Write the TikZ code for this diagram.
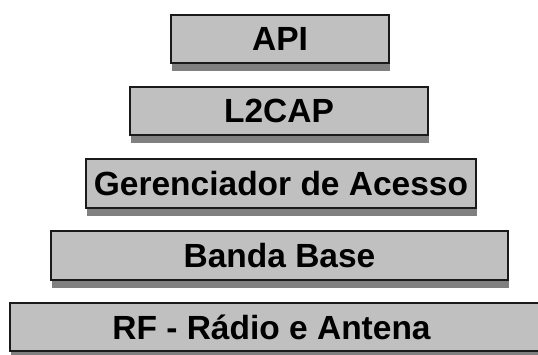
\documentclass[tikz,border=0pt]{standalone}
\usepackage{fontspec}
\setmainfont{Liberation Sans}
\usetikzlibrary{shadows}
\definecolor{boxfill}{HTML}{C0C0C0}
\definecolor{boxline}{HTML}{1A1A1A}
\definecolor{shadowgray}{HTML}{808080}
\tikzset{
  layerfont/.style={font=\fontsize{33.5}{40}\selectfont\bfseries},
  layer/.style={draw=boxline, line width=1.4pt, fill=boxfill, rectangle,
    minimum height=48pt, inner sep=0pt, layerfont,
    drop shadow={shadow xshift=0.5pt, shadow yshift=-8pt, fill=shadowgray, opacity=1}}
}
\begin{document}
\begin{tikzpicture}[x=1pt,y=-1pt]
\useasboundingbox (0,0) rectangle (538,354);
\node[layer, minimum width=218pt] (api) at (280,39) {API};
\node[layer, minimum width=298pt] (l2cap) at (279,111) {L2CAP};
\node[layer, minimum width=390pt, minimum height=49pt] (ger) at (281,183.5) {Gerenciador de Acesso};
\node[layer, minimum width=457pt, minimum height=49pt] (banda) at (279.5,255.5) {Banda Base};
\node[layer, minimum width=540pt, label={[layerfont, xshift=-8.5pt]center:RF - Rádio e Antena}] (rf) at (280,327) {};
\end{tikzpicture}
\end{document}
